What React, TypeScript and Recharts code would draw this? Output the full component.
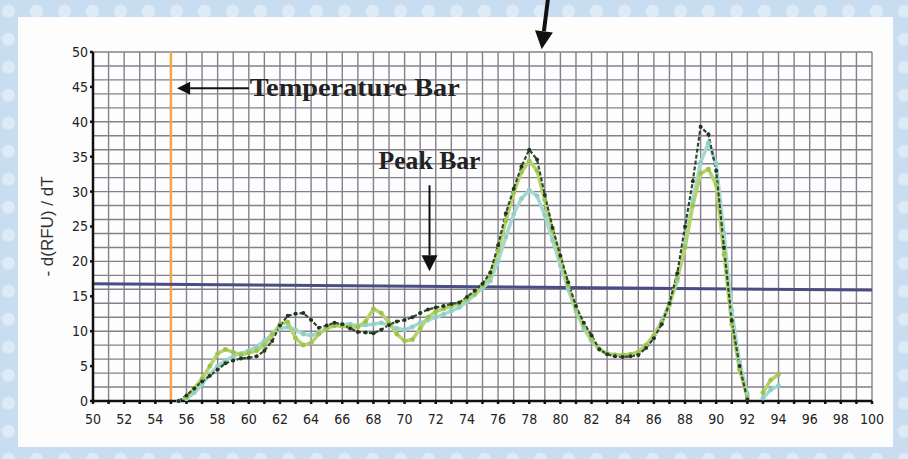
import React from 'react'
import { LineChart, Line, XAxis, YAxis, CartesianGrid, ReferenceLine } from 'recharts'

// temperature (°C) on the x axis, -d(RFU)/dT on the y axis
const temps = [
  55.5, 56, 56.5, 57, 57.5, 58, 58.5, 59, 59.5, 60, 60.5, 61, 61.5, 62, 62.5, 63, 63.5, 64, 64.5, 65,
  65.5, 66, 66.5, 67, 67.5, 68, 68.5, 69, 69.5, 70, 70.5, 71, 71.5, 72, 72.5, 73, 73.5, 74, 74.5, 75,
  75.5, 76, 76.5, 77, 77.5, 78, 78.5, 79, 79.5, 80, 80.5, 81, 81.5, 82, 82.5, 83, 83.5, 84, 84.5, 85,
  85.5, 86, 86.5, 87, 87.5, 88, 88.5, 89, 89.5, 90, 90.5, 91, 91.5, 92, 92.5, 93, 93.5, 94,
]

const darkSeries = [
  0, 0.8, 1.8, 2.8, 3.6, 4.5, 5.4, 5.8, 6.1, 6.2, 6.4, 7.2, 8.6, 10.8, 12.2, 12.5, 12.6, 11.6, 10.5, 10.8,
  11.2, 11.0, 10.4, 9.9, 9.8, 9.7, 10.2, 10.9, 11.4, 11.6, 12.0, 12.6, 13.1, 13.4, 13.6, 13.9, 14.1, 14.9, 15.8, 16.8,
  18.4, 22.3, 26.9, 30.4, 33.6, 36.0, 34.6, 29.5, 24.8, 20.8, 17.0, 13.6, 11.2, 9.4, 7.4, 6.7, 6.4, 6.3, 6.4, 6.6,
  7.6, 9.0, 11.0, 14.0, 18.3, 25.0, 31.5, 39.3, 38.2, 33.0, 22.0, 11.5, 5.0, 0.2, null, null, null, null,
]

const greenSeries = [
  null, 0.5, 1.8, 3.2, 5.0, 6.8, 7.4, 7.0, 6.6, 6.9, 7.2, 8.0, 9.5, 11.0, 11.3, 9.0, 8.0, 8.3, 9.6, 10.4,
  10.8, 10.7, 10.6, 10.6, 11.4, 13.2, 12.6, 11.2, 9.6, 8.6, 8.8, 10.4, 12.0, 12.8, 13.2, 13.6, 14.0, 14.6, 15.4, 16.6,
  18.0, 21.5, 25.8, 29.8, 32.8, 34.4, 33.0, 28.8, 24.4, 20.4, 16.6, 13.2, 10.8, 8.8, 7.4, 6.8, 6.6, 6.6, 6.7, 7.0,
  8.0, 9.4, 11.2, 13.8, 17.6, 22.0, 28.0, 32.6, 33.2, 31.0, 21.0, 11.0, 4.5, 0.5, null, 1.2, 3.0, 3.8,
]

const tealSeries = [
  0, 0.3, 1.2, 2.4, 3.8, 5.0, 5.8, 6.4, 6.8, 7.2, 7.8, 8.6, 9.6, 10.4, 10.6, 10.2, 9.6, 9.4, 9.8, 10.4,
  10.8, 11.0, 11.0, 10.8, 10.9, 11.0, 11.2, 10.8, 10.4, 10.2, 10.6, 11.2, 11.6, 12.0, 12.4, 12.9, 13.4, 14.2, 15.2, 16.2,
  17.2, 20.0, 23.5, 26.8, 29.0, 30.2, 29.4, 26.6, 23.0, 19.4, 16.0, 12.8, 10.4, 8.6, 7.4, 6.8, 6.6, 6.5, 6.6, 7.0,
  8.0, 9.4, 11.4, 14.0, 17.2, 22.4, 28.8, 34.2, 37.0, 34.0, 24.0, 13.0, 5.6, 1.0, null, 0.4, 1.6, 2.2,
]

const xTicks = [
  50, 51, 52, 53, 54, 55, 56, 57, 58, 59, 60, 61, 62, 63, 64, 65, 66, 67, 68, 69, 70, 71, 72, 73, 74, 75,
  76, 77, 78, 79, 80, 81, 82, 83, 84, 85, 86, 87, 88, 89, 90, 91, 92, 93, 94, 95, 96, 97, 98, 99, 100,
]
const yTicks = [0, 5, 10, 15, 20, 25, 30, 35, 40, 45, 50]
const yGrid = [2, 4, 6, 8, 10, 12, 14, 16, 18, 20, 22, 24, 26, 28, 30, 32, 34, 36, 38, 40, 42, 44, 46, 48, 50]

// annotation positions in data units
const temperatureBar = 55
const peakBar = [
  { x: 50, y: 16.8 },
  { x: 100, y: 15.9 },
]
const tempArrow = [
  { x: 60, y: 44.8 },
  { x: 55.4, y: 44.8 },
]
const peakArrow = [
  { x: 71.6, y: 30.9 },
  { x: 71.6, y: 18.6 },
]
const topArrow = [
  { x: 79.2, y: 57.6 },
  { x: 78.8, y: 50.4 },
]

const data = temps.map((t, i) => ({
  t,
  dark: darkSeries[i],
  green: greenSeries[i],
  teal: tealSeries[i],
}))

function arrowShape(width: number, head: number, text?: string, textPos?: 'right' | 'above') {
  return (props: any) => {
    const { x1, y1, x2, y2 } = props
    const ang = Math.atan2(y2 - y1, x2 - x1)
    const bx = x2 - Math.cos(ang) * head
    const by = y2 - Math.sin(ang) * head
    const px = -Math.sin(ang) * head * 0.5
    const py = Math.cos(ang) * head * 0.5
    return (
      <g>
        <line x1={x1} y1={y1} x2={bx} y2={by} stroke="#111" strokeWidth={width} />
        <polygon points={`${x2},${y2} ${bx + px},${by + py} ${bx - px},${by - py}`} fill="#111" />
        {text && textPos === 'right' && (
          <text x={x1 + 1} y={y1 + 8} fontFamily="Liberation Serif" fontWeight="bold" fontSize={25}
            textLength={210} lengthAdjust="spacingAndGlyphs" fill="#222">{text}</text>
        )}
        {text && textPos === 'above' && (
          <text x={x1} y={y1 - 16} textAnchor="middle" fontFamily="Liberation Serif" fontWeight="bold"
            fontSize={25} textLength={102} lengthAdjust="spacingAndGlyphs" fill="#222">{text}</text>
        )}
      </g>
    )
  }
}

const tickStyle = { fontFamily: 'DejaVu Sans Condensed', fontSize: 14, fill: '#222' }

export default function App() {
  return (
    <div style={{ position: 'absolute', left: 0, top: 0, width: 908, height: 459, overflow: 'hidden',
      background: 'radial-gradient(circle at 30% 40%, #dcebf7 0 6px, transparent 7px) 0 0/28px 28px, #c9ddf0' }}>
      <div style={{ position: 'absolute', left: 18, top: 17, width: 875, height: 430, background: '#fdfdfd' }} />
      <div style={{ position: 'absolute', left: 0, top: 0 }}>
        <LineChart width={908} height={459} data={data} margin={{ top: 52, right: 36, bottom: 28, left: 53 }}>
          <CartesianGrid horizontal={false} stroke="#857f8a" strokeWidth={1.4} />
          {yGrid.map(v => (
            <ReferenceLine key={v} y={v} stroke="#857f8a" strokeWidth={1.4} />
          ))}
          <XAxis
            type="number"
            dataKey="t"
            domain={[50, 100]}
            ticks={xTicks}
            interval={0}
            height={30}
            tickFormatter={(v: number) => (v % 2 === 0 ? String(v) : '')}
            tick={tickStyle}
            tickSize={3}
            stroke="#111"
            strokeWidth={2.5}
            tickMargin={10}
          />
          <YAxis
            type="number"
            domain={[0, 50]}
            ticks={yTicks}
            interval={0}
            width={40}
            tick={tickStyle}
            tickSize={3}
            stroke="#111"
            strokeWidth={2.5}
            tickMargin={2}
            label={{
              value: '- d(RFU) / dT',
              angle: -90,
              position: 'insideLeft',
              offset: -6,
              style: { fontFamily: 'Liberation Sans', fontSize: 17, fill: '#333', textAnchor: 'middle' },
            }}
          />
          <ReferenceLine x={temperatureBar} stroke="#f2a54a" strokeWidth={2.5} />
          <ReferenceLine segment={peakBar} stroke="#4a4d85" strokeWidth={3} />
          <Line dataKey="teal" stroke="#a6d8d2" strokeWidth={3.5} dot={{ r: 2.4, fill: '#8fcfc8', stroke: 'none' }}
            isAnimationActive={false} connectNulls={false} />
          <Line dataKey="green" stroke="#b5d36a" strokeWidth={3.5} dot={{ r: 2.4, fill: '#9fc24e', stroke: 'none' }}
            isAnimationActive={false} connectNulls={false} />
          <Line dataKey="dark" stroke="#2f4a2e" strokeWidth={2.2} strokeDasharray="4 2"
            dot={{ r: 2, fill: '#223521', stroke: 'none' }} isAnimationActive={false} connectNulls={false} />
          <ReferenceLine segment={tempArrow} shape={arrowShape(2, 13, 'Temperature Bar', 'right')} />
          <ReferenceLine segment={peakArrow} shape={arrowShape(2, 16, 'Peak Bar', 'above')} />
          <ReferenceLine segment={topArrow} ifOverflow="visible" shape={arrowShape(4, 18)} />
        </LineChart>
      </div>
    </div>
  )
}
